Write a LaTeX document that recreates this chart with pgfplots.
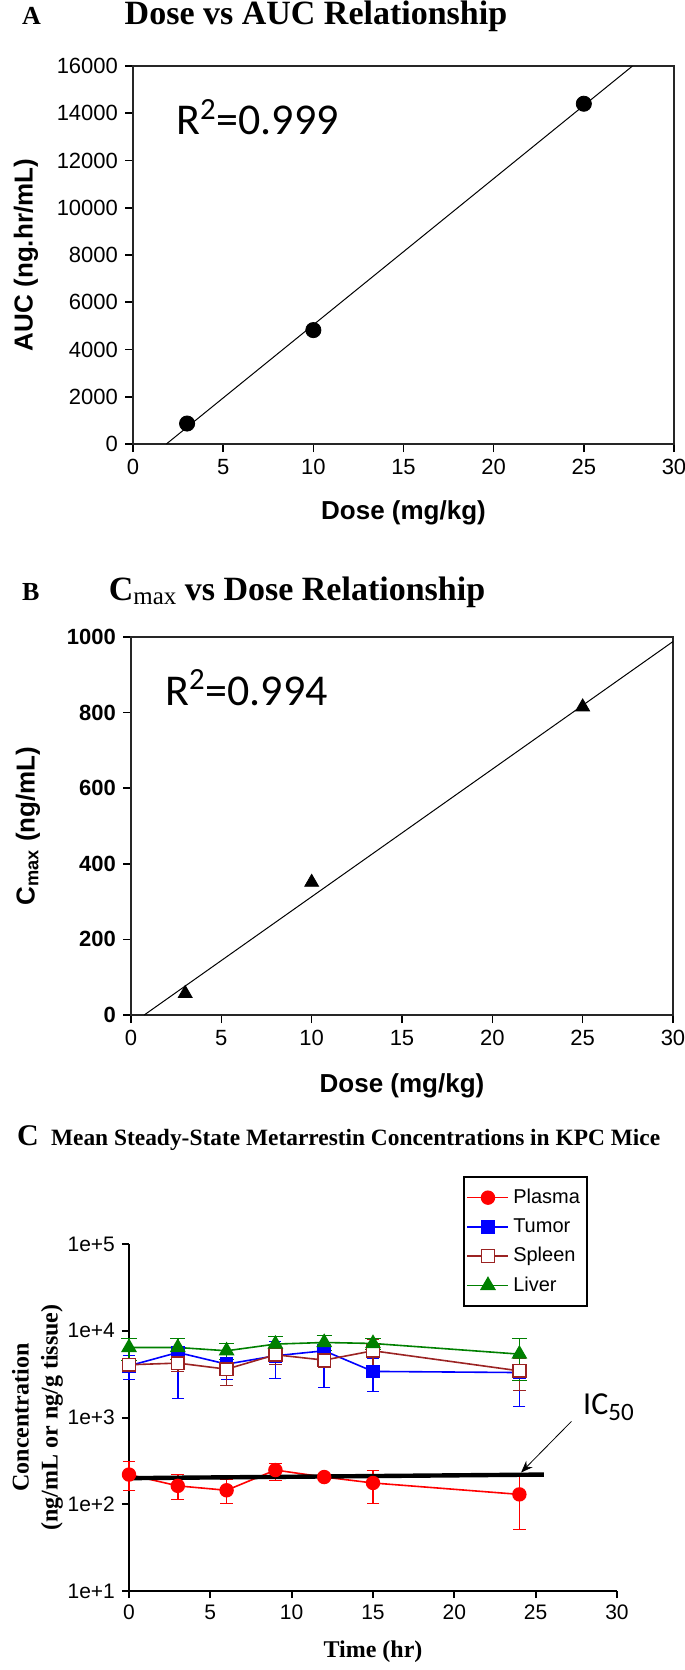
\documentclass[border=0pt]{standalone}
\usepackage{fontspec}
\setmainfont{Liberation Serif}
\setsansfont{Liberation Sans}
\newfontfamily\carlito{Carlito}
\usepackage{pgfplots}
\pgfplotsset{compat=1.18}
\usepackage{pgfplotstable}
\usetikzlibrary{arrows.meta}

\definecolor{plasmared}{RGB}{255,0,0}
\definecolor{tumorblue}{RGB}{0,0,255}
\definecolor{spleenred}{RGB}{155,35,35}
\definecolor{livergreen}{RGB}{0,128,0}

\pgfplotstableread{
t v ep em
0 220 88 77
3 163 59 48
6 145 48 43
9 248 46 59
12 206 15 15
15 176 72 73
24 130 92 79
}\plasma
\pgfplotstableread{
t v ep em
0 3945 1225 1225
3 5620 2550 3950
6 4125 1400 1400
9 5150 2300 2300
12 5880 2900 3660
15 3400 1400 1400
24 3300 1970 1970
}\tumor
\pgfplotstableread{
t v ep em
0 4055 500 500
3 4240 800 800
6 3610 1290 1290
9 5290 1000 1165
12 4590 800 800
15 5880 2140 1940
24 3450 1385 1385
}\spleen
\pgfplotstableread{
t v ep em
0 6420 1810 1810
3 6420 1780 1780
6 5880 1260 1260
9 7020 1510 1510
12 7330 1430 1430
15 7140 1030 1030
24 5380 2790 2730
}\liver

\begin{document}
\begin{tikzpicture}
\path[use as bounding box] (0,0) rectangle (342.5pt,-835pt);

% ---------- Panel A ----------
\node[anchor=base west, font=\bfseries\fontsize{13}{15}\selectfont] at (7.5pt,-12.5pt) {A};
\node[anchor=base, font=\bfseries\fontsize{17}{19}\selectfont] at (158pt,-12.5pt) {Dose vs AUC Relationship};
\begin{axis}[at={(66.5pt,-222pt)}, anchor=south west, scale only axis,
  width=270.5pt, height=189pt,
  xmin=0, xmax=30, ymin=0, ymax=16000,
  xtick={0,5,...,30}, ytick={0,2000,...,16000},
  tick pos=left, tick align=outside, major tick length=4pt,
  axis line style={black!85, line width=0.8pt},
  every tick/.style={black, line width=0.8pt},
  scaled y ticks=false,
  /pgf/number format/assume math mode=true,
  /pgf/number format/set thousands separator={},
  ticklabel style={font=\sffamily\fontsize{11}{12}\selectfont},
  xlabel={Dose (mg/kg)}, ylabel={AUC (ng.hr/mL)},
  label style={font=\sffamily\bfseries\fontsize{13}{15}\selectfont},
  xlabel style={at={(axis description cs:0.5,-0.1825)}, anchor=center},
  ylabel style={at={(axis description cs:-0.198,0.5)}, anchor=center},
  clip=true]
\addplot[black, line width=0.5pt] coordinates {(1.85,0) (27.7,16000)};
\addplot[only marks, mark=*, mark size=3.8pt, black] coordinates {(3,867) (10,4821) (25,14403)};
\node[anchor=base west, font=\carlito\fontsize{22}{24}\selectfont] at (axis cs:2,13100) {R\textsuperscript{2}=0.999};
\end{axis}

% ---------- Panel B ----------
\node[anchor=base west, font=\bfseries\fontsize{13}{15}\selectfont] at (7.5pt,-300pt) {B};
\node[anchor=base, font=\bfseries\fontsize{17}{19}\selectfont] at (148.5pt,-300pt) {C{\fontsize{12.5}{12}\selectfont\mdseries\raisebox{-0.35ex}{max}} vs Dose Relationship};
\begin{axis}[at={(65.5pt,-507.5pt)}, anchor=south west, scale only axis,
  width=271pt, height=189pt,
  xmin=0, xmax=30, ymin=0, ymax=1000,
  xtick={0,5,...,30}, ytick={0,200,...,1000},
  tick pos=left, tick align=outside, major tick length=4pt,
  axis line style={black!85, line width=0.8pt},
  every tick/.style={black, line width=0.8pt},
  /pgf/number format/assume math mode=true,
  /pgf/number format/set thousands separator={},
  xticklabel style={font=\sffamily\fontsize{11}{12}\selectfont},
  yticklabel style={font=\sffamily\bfseries\fontsize{11}{12}\selectfont},
  xlabel={Dose (mg/kg)}, ylabel={C\textsubscript{max} (ng/mL)},
  label style={font=\sffamily\bfseries\fontsize{13}{15}\selectfont},
  xlabel style={at={(axis description cs:0.5,-0.188)}, anchor=center},
  ylabel style={at={(axis description cs:-0.19,0.5)}, anchor=center},
  clip=true]
\addplot[black, line width=0.5pt] coordinates {(0.73,0) (30,988)};
\addplot[only marks, mark=triangle*, mark size=4pt, black] coordinates {(3,57) (10,351) (25,815)};
\node[anchor=base west, font=\carlito\fontsize{22}{24}\selectfont] at (axis cs:1.5,820) {R\textsuperscript{2}=0.994};
\end{axis}

% ---------- Panel C ----------
\node[anchor=base west, font=\bfseries\fontsize{15}{17}\selectfont] at (5pt,-572.5pt) {C};
\node[anchor=base west, font=\bfseries\fontsize{11.7}{14}\selectfont] at (22pt,-572.5pt) {Mean Steady-State Metarrestin Concentrations in KPC Mice};
\begin{axis}[at={(64.5pt,-795.5pt)}, anchor=south west, scale only axis,
  width=244pt, height=173.5pt,
  ymode=log, xmin=0, xmax=30, ymin=10, ymax=100000,
  xtick={0,5,...,30},
  ytick={10,100,1000,10000,100000},
  yticklabels={1e+1,1e+2,1e+3,1e+4,1e+5},
  yminorticks=false,
  axis lines=left, axis line style={-, black, line width=1pt},
  tick align=outside, major tick length=3.5pt,
  every tick/.style={black, line width=1pt},
  /pgf/number format/assume math mode=true,
  ticklabel style={font=\sffamily\fontsize{10.5}{12}\selectfont},
  xlabel={Time (hr)},
  ylabel={Concentration\\(ng/mL or ng/g tissue)},
  label style={font=\bfseries\fontsize{12}{14.5}\selectfont},
  xlabel style={at={(axis description cs:0.5,-0.176)}, anchor=center},
  ylabel style={at={(axis description cs:-0.1875,0.5)}, anchor=center, align=center},
  clip=false,
  legend style={at={(axis description cs:0.684,1.196)}, anchor=north west,
    draw=black, line width=0.9pt, inner xsep=1.5pt, inner ysep=4pt,
    font=\sffamily\fontsize{10}{11.5}\selectfont, row sep=2pt},
  legend cell align=left,
  legend image code/.code={\draw[mark repeat=2,mark phase=2] plot coordinates {(0cm,0cm) (0.36cm,0cm) (0.72cm,0cm)};}
  ]
\addplot[plasmared, line width=0.8pt, mark=*, mark size=3.2pt, mark options={solid, fill=plasmared},
  error bars/.cd, y dir=both, y explicit, error bar style={line width=0.8pt}]
  table[x=t, y=v, y error plus=ep, y error minus=em] {\plasma};
\addlegendentry{Plasma}
\addplot[tumorblue, line width=0.8pt, mark=square*, mark size=3pt, mark options={solid, fill=tumorblue},
  error bars/.cd, y dir=both, y explicit, error bar style={line width=0.8pt}]
  table[x=t, y=v, y error plus=ep, y error minus=em] {\tumor};
\addlegendentry{Tumor}
\addplot[spleenred, line width=0.8pt, mark=square*, mark size=3.2pt, mark options={solid, fill=white, draw=spleenred},
  error bars/.cd, y dir=both, y explicit, error bar style={line width=0.8pt}]
  table[x=t, y=v, y error plus=ep, y error minus=em] {\spleen};
\addlegendentry{Spleen}
\addplot[livergreen, line width=0.8pt, mark=triangle*, mark size=3.8pt, mark options={solid, fill=livergreen},
  error bars/.cd, y dir=both, y explicit, error bar style={line width=0.8pt}]
  table[x=t, y=v, y error plus=ep, y error minus=em] {\liver};
\addlegendentry{Liver}
\addplot[black, line width=2.2pt, forget plot] coordinates {(0,200) (25.5,220)};
\draw[-{Stealth[length=6pt,width=4.5pt]}, line width=0.4pt] (axis cs:27.2,903) -- (axis cs:24.1,232);
\node[anchor=west, font=\carlito\fontsize{16}{18}\selectfont, inner sep=0pt] at (axis cs:27.9,1320) {IC{\fontsize{12.5}{12.5}\selectfont\raisebox{-0.45ex}{50}}};
\end{axis}
\end{tikzpicture}
\end{document}
